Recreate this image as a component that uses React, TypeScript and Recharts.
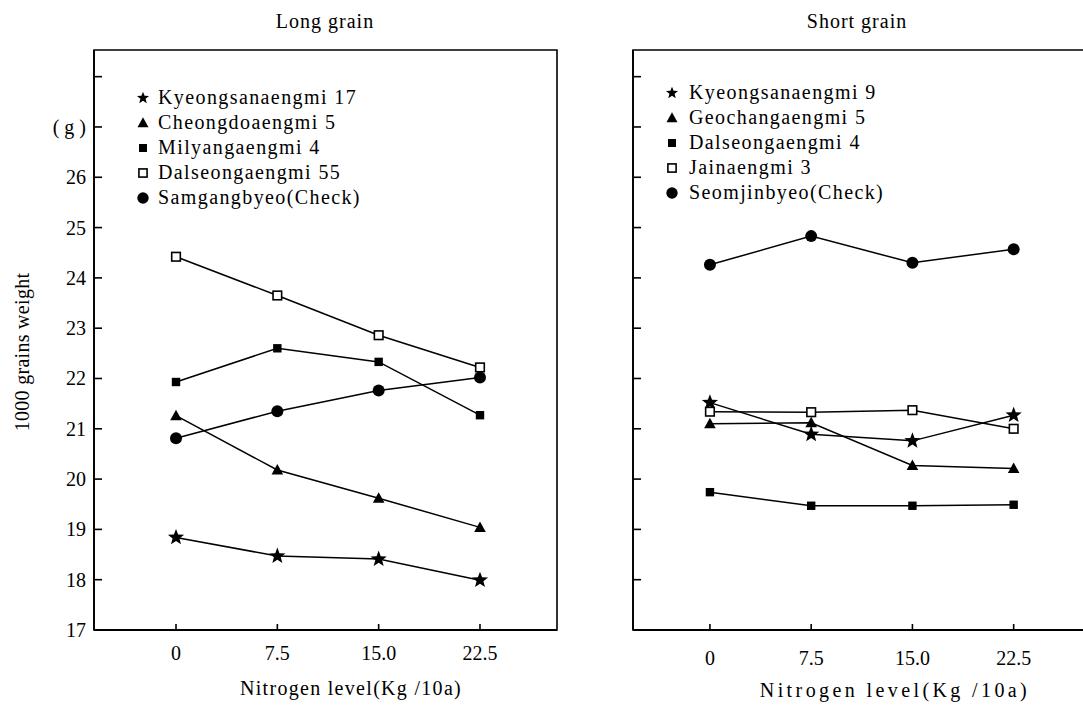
import React from 'react';
import { LineChart, Line, XAxis, YAxis, ReferenceArea, Legend } from 'recharts';

// ---------- data ----------
const nitrogen = [0, 7.5, 15, 22.5];
const nitrogenLabels = ['0', '7.5', '15.0', '22.5'];
const yTicks = [17, 18, 19, 20, 21, 22, 23, 24, 25, 26, 27, 28];
const yTickLabels = ['17', '18', '19', '20', '21', '22', '23', '24', '25', '26', '( g )', ''];

// Long grain
const longNames = ['Kyeongsanaengmi 17', 'Cheongdoaengmi 5', 'Milyangaengmi 4', 'Dalseongaengmi 55', 'Samgangbyeo(Check)'];
const kyeongsan17 = [18.84, 18.47, 18.41, 17.99];
const cheongdo5 = [21.26, 20.18, 19.62, 19.04];
const milyang4 = [21.93, 22.6, 22.33, 21.27];
const dalseong55 = [24.42, 23.65, 22.86, 22.22];
const samgang = [20.81, 21.35, 21.76, 22.02];

// Short grain
const shortNames = ['Kyeongsanaengmi 9', 'Geochangaengmi 5', 'Dalseongaengmi 4', 'Jainaengmi 3', 'Seomjinbyeo(Check)'];
const kyeongsan9 = [21.52, 20.89, 20.76, 21.27];
const geochang5 = [21.1, 21.12, 20.27, 20.21];
const dalseong4 = [19.74, 19.47, 19.47, 19.49];
const jain3 = [21.34, 21.33, 21.37, 21.0];
const seomjin = [24.26, 24.83, 24.3, 24.57];

const shapes = ['star', 'triangle', 'square', 'open', 'circle'];

const longData = nitrogen.map((n, i) => ({
  n, s0: kyeongsan17[i], s1: cheongdo5[i], s2: milyang4[i], s3: dalseong55[i], s4: samgang[i],
}));
const shortData = nitrogen.map((n, i) => ({
  n, s0: kyeongsan9[i], s1: geochang5[i], s2: dalseong4[i], s3: jain3[i], s4: seomjin[i],
}));

const FONT = '"Liberation Serif", "DejaVu Serif", serif';
const Y_DOMAIN: [number, number] = [17, 28.53];

// ---------- markers ----------
function starPath(cx: number, cy: number, R: number, r: number) {
  let d = '';
  for (let i = 0; i < 10; i++) {
    const a = -Math.PI / 2 + (i * Math.PI) / 5;
    const rad = i % 2 === 0 ? R : r;
    d += (i === 0 ? 'M' : 'L') + (cx + rad * Math.cos(a)).toFixed(2) + ',' + (cy + rad * Math.sin(a)).toFixed(2);
  }
  return d + 'Z';
}

function Marker({ cx, cy, shape, k = 1 }: { cx: number; cy: number; shape: string; k?: number }) {
  if (cx == null || cy == null) return null;
  switch (shape) {
    case 'star':
      return <path d={starPath(cx, cy, 8.5 * k, 3.6 * k)} fill="#000" />;
    case 'triangle':
      return <polygon points={`${cx},${cy - 6 * k} ${cx + 5.8 * k},${cy + 4.5 * k} ${cx - 5.8 * k},${cy + 4.5 * k}`} fill="#000" />;
    case 'square':
      return <rect x={cx - 4.2 * k} y={cy - 4.2 * k} width={8.4 * k} height={8.4 * k} fill="#000" />;
    case 'open':
      return <rect x={cx - 4.3 * k} y={cy - 4.3 * k} width={8.6 * k} height={8.6 * k} fill="#fff" stroke="#000" strokeWidth={1.6} />;
    default:
      return <circle cx={cx} cy={cy} r={6 * k} fill="#000" />;
  }
}

// ---------- ticks ----------
const makeYTick = (showLabels: boolean) => (props: any) => {
  const { x, y, payload } = props;
  const axisX = x + 8;
  const i = yTicks.indexOf(payload.value);
  return (
    <g>
      <line x1={axisX} x2={axisX + 8} y1={y} y2={y} stroke="#000" strokeWidth={1.6} />
      {showLabels && (
        <text x={x} y={y} textAnchor="end" dominantBaseline="central" fontSize={20} fontFamily={FONT} fill="#000">
          {yTickLabels[i]}
        </text>
      )}
    </g>
  );
};

const makeXTick = (labelOffset: number) => (props: any) => {
  const { x, y, payload } = props;
  const i = nitrogen.indexOf(payload.value);
  return (
    <g>
      <line x1={x} x2={x} y1={y} y2={y - 6} stroke="#000" strokeWidth={1.6} />
      <text x={x} y={y + labelOffset} textAnchor="middle" dominantBaseline="central" fontSize={20} fontFamily={FONT} fill="#000">
        {nitrogenLabels[i]}
      </text>
    </g>
  );
};

// ---------- legend ----------
function LegendBlock({ names, markerW, gap }: { names: string[]; markerW: number; gap: number }) {
  return (
    <div style={{ fontFamily: FONT, fontSize: 20, letterSpacing: 1.4, color: '#000' }}>
      {names.map((name, i) => (
        <div key={name} style={{ display: 'flex', alignItems: 'center', height: 25, whiteSpace: 'nowrap' }}>
          <svg width={markerW} height={16} style={{ display: 'block' }}>
            <Marker cx={markerW / 2} cy={9} shape={shapes[i]} k={shapes[i] === 'star' ? 0.75 : 0.95} />
          </svg>
          <span style={{ marginLeft: gap, lineHeight: '25px' }}>{name}</span>
        </div>
      ))}
    </div>
  );
}

// ---------- panel ----------
function Panel({
  data, names, width, margin, yAxisWidth, xDomain, showYLabels, labelOffset, legendPos, legendGap,
}: any) {
  return (
    <LineChart width={width} height={706} data={data} margin={margin}>
      <XAxis
        dataKey="n"
        type="number"
        domain={xDomain}
        ticks={nitrogen}
        allowDataOverflow
        height={40}
        tickSize={0}
        tickMargin={0}
        tickLine={false}
        axisLine={{ stroke: '#000', strokeWidth: 1.8 }}
        tick={makeXTick(labelOffset)}
        interval={0}
      />
      <YAxis
        type="number"
        domain={Y_DOMAIN}
        ticks={yTicks}
        allowDataOverflow
        width={yAxisWidth}
        tickSize={0}
        tickMargin={8}
        tickLine={false}
        axisLine={{ stroke: '#000', strokeWidth: 1.8 }}
        tick={makeYTick(showYLabels)}
        interval={0}
      />
      <ReferenceArea
        x1={xDomain[0]}
        x2={xDomain[1]}
        y1={Y_DOMAIN[0]}
        y2={Y_DOMAIN[1]}
        fill="none"
        fillOpacity={0}
        stroke="#000"
        strokeWidth={1.6}
      />
      {shapes.map((shape, si) => (
        <Line
          key={shape}
          dataKey={`s${si}`}
          name={names[si]}
          type="linear"
          stroke="#000"
          strokeWidth={1.5}
          isAnimationActive={false}
          dot={(p: any) => <Marker key={`${shape}-${p.index}`} cx={p.cx} cy={p.cy} shape={shape} />}
          activeDot={false}
        />
      ))}
      <Legend
        layout="horizontal"
        verticalAlign="middle"
        align="center"
        wrapperStyle={{ left: legendPos.left, top: legendPos.top, width: 320, height: 130 }}
        content={() => <LegendBlock names={names} markerW={14} gap={legendGap} />}
      />
    </LineChart>
  );
}

const textStyle: React.CSSProperties = {
  position: 'absolute',
  fontFamily: FONT,
  fontSize: 20,
  color: '#000',
  whiteSpace: 'nowrap',
  transform: 'translate(-50%, -50%)',
};

export default function App() {
  return (
    <div style={{ position: 'fixed', left: 0, top: 0, width: 1083, height: 706, overflow: 'hidden', background: '#fff' }}>
      <div style={{ position: 'absolute', left: 0, top: 0 }}>
        <Panel
          data={longData}
          names={longNames}
          width={580}
          margin={{ top: 50, right: 23, bottom: 36, left: 34 }}
          yAxisWidth={60}
          xDomain={[-6.07, 28.2]}
          showYLabels
          labelOffset={23}
          legendPos={{ left: 136, top: 84.5 }}
          legendGap={8}
        />
      </div>
      <div style={{ position: 'absolute', left: 560, top: 0 }}>
        <Panel
          data={shortData}
          names={shortNames}
          width={560}
          margin={{ top: 50, right: 24, bottom: 36, left: 33 }}
          yAxisWidth={40}
          xDomain={[-5.7, 28.6]}
          showYLabels={false}
          labelOffset={28}
          legendPos={{ left: 105, top: 79.5 }}
          legendGap={10}
        />
      </div>
      <div style={{ ...textStyle, left: 325, top: 21, letterSpacing: 1 }}>Long grain</div>
      <div style={{ ...textStyle, left: 857, top: 21, letterSpacing: 1 }}>Short grain</div>
      <div style={{ ...textStyle, left: 351, top: 688, letterSpacing: 1.3 }}>Nitrogen level(Kg /10a)</div>
      <div style={{ ...textStyle, left: 895, top: 690, letterSpacing: 3.4 }}>Nitrogen level(Kg /10a)</div>
      <div style={{ ...textStyle, left: 22, top: 352, transform: 'translate(-50%, -50%) rotate(-90deg)', letterSpacing: 0.3 }}>
        1000 grains weight
      </div>
    </div>
  );
}
